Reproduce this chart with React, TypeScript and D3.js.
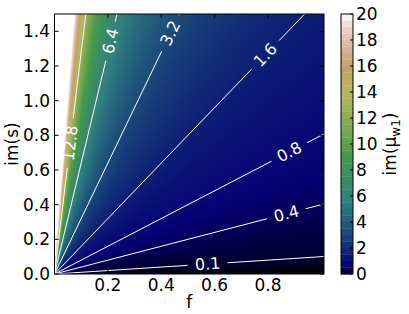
import React, { useMemo } from "react";
import * as d3 from "d3";

// ---- data ----
const contourLevels = [0.1, 0.4, 0.8, 1.6, 3.2, 6.4, 12.8];
const contourLabelF = [0.574, 0.869, 0.88, 0.79, 0.434, 0.21, 0.059];
const xTicks = [0.2, 0.4, 0.6, 0.8];
const yTicks = [0.0, 0.2, 0.4, 0.6, 0.8, 1.0, 1.2, 1.4];
const cbTicks = [0, 2, 4, 6, 8, 10, 12, 14, 16, 18, 20];
const fDomain = [0, 1.01];
const sDomain = [0, 1.5];
const vDomain = [0, 20];

// gist_earth segment data
const R: number[][] = [[0, 0], [0.2824, 0.1882], [0.4588, 0.2714], [0.549, 0.4719], [0.698, 0.7176], [0.7882, 0.7553], [1, 0.9922]];
const G: number[][] = [[0, 0], [0.0275, 0], [0.1098, 0.1893], [0.1647, 0.3035], [0.2078, 0.3841], [0.2824, 0.502], [0.5216, 0.6397], [0.698, 0.7171], [0.7882, 0.6392], [0.7922, 0.6413], [0.8, 0.6447], [0.8078, 0.6481], [0.8157, 0.6549], [0.8667, 0.6991], [0.8745, 0.7103], [0.8824, 0.7216], [0.8902, 0.7323], [0.898, 0.743], [0.9412, 0.8275], [0.9569, 0.8635], [0.9647, 0.8816], [0.9961, 0.9733], [1, 0.9843]];
const B: number[][] = [[0, 0], [0.0039, 0.1684], [0.0078, 0.2212], [0.0275, 0.4329], [0.0314, 0.4549], [0.2824, 0.5004], [0.4667, 0.2748], [0.5451, 0.3205], [0.7843, 0.3961], [0.8941, 0.6651], [1, 0.9843]];

function seg(s: number[][], t: number) {
  for (let i = 1; i < s.length; i++) {
    if (t <= s[i][0]) {
      const a = s[i - 1], b = s[i];
      const u = (t - a[0]) / (b[0] - a[0] || 1);
      return a[1] + u * (b[1] - a[1]);
    }
  }
  return s[s.length - 1][1];
}
function gistEarth(t: number): [number, number, number] {
  t = Math.max(0, Math.min(1, t));
  return [seg(R, t) * 255, seg(G, t) * 255, seg(B, t) * 255];
}

const PL = 54.5, PR = 324, PT = 14, PB = 274;
const CBL = 341, CBR = 353;

export default function App() {
  const x = d3.scaleLinear().domain(fDomain).range([PL, PR]);
  const y = d3.scaleLinear().domain(sDomain).range([PB, PT]);
  const cb = d3.scaleLinear().domain(vDomain).range([PB, PT]);

  const img = useMemo(() => {
    const W = Math.round(PR - PL), H = Math.round(PB - PT);
    const c = document.createElement("canvas");
    c.width = W; c.height = H;
    const ctx = c.getContext("2d")!;
    const id = ctx.createImageData(W, H);
    for (let j = 0; j < H; j++) {
      const s = y.invert(PT + j + 0.5);
      for (let i = 0; i < W; i++) {
        const f = x.invert(PL + i + 0.5);
        const v = s / f;
        const k = (j * W + i) * 4;
        let rgb: [number, number, number];
        if (v > vDomain[1]) rgb = [255, 255, 255];
        else rgb = gistEarth(v / vDomain[1]);
        id.data[k] = rgb[0]; id.data[k + 1] = rgb[1]; id.data[k + 2] = rgb[2]; id.data[k + 3] = 255;
      }
    }
    ctx.putImageData(id, 0, 0);
    return c.toDataURL();
  }, []);

  const nb = 40;
  const bands = d3.range(nb).map((i) => {
    const v0 = (vDomain[1] * i) / nb, v1 = (vDomain[1] * (i + 1)) / nb;
    const rgb = gistEarth((v0 + v1) / 2 / vDomain[1]);
    return { v0, v1, color: d3.rgb(rgb[0], rgb[1], rgb[2]).toString() };
  });

  const font = "DejaVu Sans, sans-serif";
  const fs = 17;

  const contours = contourLevels.map((lv, i) => {
    const x0 = x(0), y0 = y(0);
    let fe = fDomain[1], se = lv * fe;
    if (se > sDomain[1]) { se = sDomain[1]; fe = se / lv; }
    const x1 = x(fe), y1 = y(se);
    const len = Math.hypot(x1 - x0, y1 - y0);
    const ux = (x1 - x0) / len, uy = (y1 - y0) / len;
    const lf = contourLabelF[i];
    const cx = x(lf), cy = y(lv * lf);
    const label = String(lv);
    const gap = label.length * 5 + 5;
    const ang = (Math.atan2(uy, ux) * 180) / Math.PI;
    return { x0, y0, x1, y1, cx, cy, ux, uy, gap, ang, label };
  });

  return (
    <svg width={409} height={314} style={{ display: "block", position: "absolute", left: 0, top: 0 }}>
      <defs>
        <clipPath id="plotclip"><rect x={PL} y={PT} width={PR - PL} height={PB - PT} /></clipPath>
      </defs>
      <image href={img} x={PL} y={PT} width={PR - PL} height={PB - PT} preserveAspectRatio="none" />
      <g clipPath="url(#plotclip)">
        {contours.map((c, i) => (
          <g key={i}>
            <line x1={c.x0} y1={c.y0} x2={c.cx - c.ux * c.gap} y2={c.cy - c.uy * c.gap} stroke="#fff" strokeWidth={1} />
            <line x1={c.cx + c.ux * c.gap} y1={c.cy + c.uy * c.gap} x2={c.x1} y2={c.y1} stroke="#fff" strokeWidth={1} />
          </g>
        ))}
      </g>
      {contours.map((c, i) => (
        <text key={i} x={c.cx} y={c.cy} transform={`rotate(${c.ang},${c.cx},${c.cy})`} textAnchor="middle" dominantBaseline="central" fill="#fff" fontSize={16} fontFamily={font}>{c.label}</text>
      ))}
      <rect x={PL} y={PT} width={PR - PL} height={PB - PT} fill="none" stroke="#000" strokeWidth={1} />
      {xTicks.map((t) => (
        <g key={t}>
          <line x1={x(t)} x2={x(t)} y1={PB} y2={PB - 4} stroke="#000" />
          <line x1={x(t)} x2={x(t)} y1={PT} y2={PT + 4} stroke="#000" />
          <text x={x(t)} y={291} textAnchor="middle" fontSize={fs} fontFamily={font}>{t.toFixed(1)}</text>
        </g>
      ))}
      {yTicks.map((t) => (
        <g key={t}>
          <line x1={PL} x2={PL + 4} y1={y(t)} y2={y(t)} stroke="#000" />
          <line x1={PR} x2={PR - 4} y1={y(t)} y2={y(t)} stroke="#000" />
          <text x={50} y={y(t)} textAnchor="end" dominantBaseline="central" fontSize={fs} fontFamily={font}>{t.toFixed(1)}</text>
        </g>
      ))}
      <text x={(PL + PR) / 2} y={308} textAnchor="middle" fontSize={fs} fontFamily={font}>f</text>
      <text transform={`translate(18,${(PT + PB) / 2}) rotate(-90)`} textAnchor="middle" fontSize={fs} fontFamily={font}>im(s)</text>

      {bands.map((b, i) => (
        <rect key={i} x={CBL} y={cb(b.v1)} width={CBR - CBL} height={cb(b.v0) - cb(b.v1) + 0.3} fill={b.color} />
      ))}
      <rect x={CBL} y={PT} width={CBR - CBL} height={PB - PT} fill="none" stroke="#000" strokeWidth={1} />
      {cbTicks.map((t) => (
        <g key={t}>
          <line x1={CBR} x2={CBR - 3} y1={cb(t)} y2={cb(t)} stroke="#000" />
          <text x={356} y={cb(t)} dominantBaseline="central" fontSize={fs} fontFamily={font}>{t}</text>
        </g>
      ))}
      <text transform={`translate(396,${(PT + PB) / 2}) rotate(-90)`} textAnchor="middle" fontSize={fs} fontFamily={font}>
        im(μ<tspan fontSize={12} dy={4}>w1</tspan><tspan dy={-4}>)</tspan>
      </text>
    </svg>
  );
}
